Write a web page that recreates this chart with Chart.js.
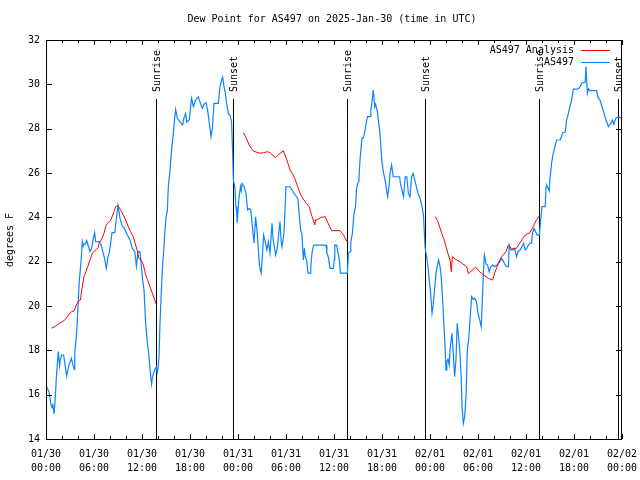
<!DOCTYPE html>
<html>
<head>
<meta charset="utf-8">
<script src="https://cdn.jsdelivr.net/npm/chart.js@4"></script>
<style>
  body { margin: 0; background: #fff; }
  canvas { display: block; }
</style>
</head>
<body>
<canvas id="chart" width="640" height="480"></canvas>
<script>
// Dew point, observed vs analysis, hours since 2025-01-30 00:00 UTC.

const titleText = 'Dew Point for AS497 on 2025-Jan-30 (time in UTC)';
const yTitle = 'degrees F';

const xTickHours = [0, 6, 12, 18, 24, 30, 36, 42, 48, 54, 60, 66, 72];
const xTickDates = ['01/30', '01/30', '01/30', '01/30', '01/31', '01/31', '01/31', '01/31', '02/01', '02/01', '02/01', '02/01', '02/02'];
const xTickTimes = ['00:00', '06:00', '12:00', '18:00', '00:00', '06:00', '12:00', '18:00', '00:00', '06:00', '12:00', '18:00', '00:00'];
const yTickValues = [14, 16, 18, 20, 22, 24, 26, 28, 30, 32];

const sunHours = [13.79, 23.42, 37.67, 47.4, 61.67, 71.46];
const sunLabels = ['Sunrise', 'Sunset', 'Sunrise', 'Sunset', 'Sunrise', 'Sunset'];

// AS497 observations
const obsHours = [
  0.0, 0.08, 0.4, 0.6, 0.75, 0.85, 1.0, 1.15, 1.29, 1.45, 1.54, 1.7, 1.8, 1.96, 2.2, 2.4, 2.58, 2.85, 3.17, 3.4,
  3.54, 3.6, 3.79, 3.9, 4.04, 4.17, 4.29, 4.42, 4.54, 4.66, 4.75, 4.95, 5.08, 5.25, 5.5, 5.7, 5.92, 6.08, 6.2, 6.63,
  6.9, 7.1, 7.33, 7.54, 7.75, 7.9, 8.08, 8.25, 8.6, 8.75, 9.0, 9.25, 9.54, 9.8, 10.1, 10.5, 10.8, 11.1, 11.3, 11.5,
  11.75, 12.08, 12.25, 12.46, 12.67, 12.875, 13.08, 13.2, 13.3, 13.58, 13.79, 13.9, 14.0, 14.125, 14.25, 14.42, 14.58, 14.7, 14.83, 15.0,
  15.17, 15.29, 15.5, 15.71, 15.92, 16.04, 16.2, 16.42, 16.75, 17.08, 17.25, 17.46, 17.58, 17.92, 18.08, 18.2, 18.42, 18.625, 18.83, 19.04,
  19.25, 19.54, 19.75, 20.0, 20.17, 20.42, 20.625, 20.79, 21.0, 21.54, 21.75, 21.96, 22.08, 22.25, 22.42, 22.58, 22.79, 23.0, 23.2, 23.33,
  23.42, 23.6, 23.75, 23.85, 23.9, 24.1, 24.3, 24.4, 24.5, 24.75, 25.0, 25.2, 25.4, 25.6, 25.8, 26.0, 26.2, 26.4, 26.7, 26.9,
  27.0, 27.2, 27.4, 27.6, 27.8, 28.0, 28.25, 28.4, 28.7, 28.9, 29.1, 29.25, 29.4, 29.5, 29.75, 30.0, 30.2, 30.5, 30.83, 31.0,
  31.33, 31.5, 31.67, 31.83, 32.0, 32.17, 32.3, 32.42, 32.58, 32.75, 33.0, 33.1, 33.25, 33.4, 33.5, 35.0, 35.1, 35.3, 35.5, 35.9,
  36.05, 36.1, 36.33, 36.5, 36.67, 36.8, 37.67, 37.8, 38.0, 38.1, 38.3, 38.5, 38.7, 38.8, 38.96, 39.1, 39.25, 39.4, 39.5, 39.7,
  39.875, 40.1, 40.2, 40.5, 40.6, 40.75, 40.9, 41.1, 41.2, 41.4, 41.75, 41.96, 42.2, 42.4, 42.6, 42.7, 42.875, 43.0, 43.2, 43.4,
  44.2, 44.3, 44.5, 44.7, 44.9, 45.1, 45.3, 45.5, 45.7, 45.9, 46.1, 46.3, 46.5, 46.75, 47.0, 47.2, 47.3, 47.4, 47.58, 47.75,
  47.9, 48.08, 48.25, 48.4, 48.6, 48.75, 48.9, 49.08, 49.25, 49.4, 49.58, 49.75, 49.9, 50.0, 50.1, 50.25, 50.4, 50.5, 50.75, 50.9,
  51.08, 51.25, 51.4, 51.58, 51.75, 51.9, 52.0, 52.17, 52.33, 52.5, 52.67, 52.83, 53.0, 53.2, 53.4, 53.6, 53.8, 54.0, 54.2, 54.4,
  54.58, 54.67, 54.8, 55.0, 55.2, 55.4, 55.6, 55.83, 56.1, 56.4, 56.75, 56.96, 57.2, 57.4, 57.58, 57.8, 57.9, 58.1, 58.4, 58.6,
  58.8, 59.0, 59.25, 59.5, 59.7, 59.9, 60.1, 60.3, 60.5, 60.7, 60.8, 61.0, 61.2, 61.4, 61.67, 61.83, 62.0, 62.4, 62.5, 62.6,
  62.9, 63.0, 63.2, 63.4, 63.83, 64.3, 64.58, 64.9, 65.08, 65.3, 65.5, 65.7, 65.92, 66.4, 66.7, 66.96, 67.4, 67.5, 67.67, 67.8,
  68.0, 68.83, 69.0, 69.25, 69.5, 69.7, 69.9, 70.08, 70.3, 70.5, 70.6, 70.8, 71.0, 71.2, 71.4, 71.6, 71.9
];
const obsDew = [
  16.4, 16.36, 16.1, 15.6, 15.4, 15.6, 15.13, 15.8, 16.75, 17.57, 17.94, 17.3, 17.6, 17.79, 17.79, 17.3, 16.84, 17.3, 17.64, 17.3,
  17.14, 17.9, 18.62, 19.22, 20.27, 21.17, 21.63, 22.23, 22.9, 22.7, 22.8, 22.8, 22.95, 22.75, 22.45, 22.6, 23.05, 23.31, 22.9, 22.9,
  22.75, 22.45, 22.15, 21.7, 22.2, 22.4, 22.83, 23.31, 23.31, 23.8, 24.53, 23.95, 23.6, 23.5, 23.25, 22.98, 22.6, 22.45, 21.8, 22.45,
  22.45, 21.17, 20.72, 19.22, 18.32, 17.71, 16.81, 16.48, 16.8, 17.11, 17.26, 17.0, 17.2, 17.71, 19.22, 20.72, 21.9, 22.4, 23.2, 24.0,
  24.3, 25.38, 26.14, 27.11, 27.79, 28.31, 28.87, 28.47, 28.31, 28.17, 28.5, 28.69, 28.3, 28.4, 29.0, 29.37, 29.0, 29.2, 29.37, 29.44,
  29.2, 28.92, 29.1, 29.17, 28.9, 28.24, 27.64, 28.0, 29.14, 29.14, 29.9, 30.2, 30.32, 29.9, 29.6, 29.14, 28.69, 28.6, 28.3, 26.9,
  25.68, 25.38, 24.48, 24.2, 23.76, 24.78, 25.38, 25.2, 25.53, 25.4, 25.08, 24.33, 24.4, 24.33, 23.58, 22.83, 24.03, 23.28, 21.78, 21.48,
  22.0, 23.2, 22.9, 22.53, 22.9, 22.38, 23.73, 23.0, 22.3, 22.6, 23.28, 23.81, 22.9, 22.68, 23.3, 25.38, 25.38, 25.38, 25.2, 25.08,
  24.93, 24.8, 24.03, 23.43, 23.2, 22.08, 22.6, 22.2, 22.08, 21.48, 21.48, 21.8, 22.4, 22.68, 22.75, 22.75, 22.4, 22.2, 21.7, 21.7,
  22.1, 22.75, 22.75, 22.4, 22.08, 21.48, 21.48, 22.38, 22.45, 22.86, 23.28, 24.18, 24.5, 25.23, 25.53, 25.6, 26.59, 27.2, 27.56, 27.6,
  27.94, 28.4, 28.54, 28.54, 28.84, 29.2, 29.74, 28.99, 29.1, 28.8, 27.79, 26.59, 25.98, 25.68, 25.16, 24.93, 25.38, 25.98, 26.36, 25.83,
  25.83, 25.53, 25.23, 24.93, 25.83, 25.83, 25.08, 24.93, 25.83, 25.98, 25.68, 25.38, 25.08, 24.86, 24.5, 24.03, 23.2, 22.6, 22.23, 21.78,
  21.17, 20.57, 19.67, 20.05, 20.87, 21.48, 21.78, 22.08, 21.78, 21.33, 20.27, 19.07, 18.02, 17.11, 17.5, 17.6, 17.34, 18.02, 18.77, 17.9,
  16.81, 17.6, 19.22, 18.6, 17.87, 16.81, 15.46, 14.71, 15.0, 15.91, 18.02, 18.47, 19.37, 20.42, 20.3, 20.35, 20.2, 19.67, 19.37, 19.07,
  20.57, 21.48, 22.3, 21.9, 21.85, 21.55, 21.78, 21.85, 21.78, 21.85, 22.0, 22.15, 22.0, 21.85, 21.78, 21.78, 22.75, 22.53, 22.53, 22.6,
  22.23, 22.45, 22.53, 22.68, 22.83, 22.53, 22.6, 22.75, 22.83, 22.83, 23.28, 23.5, 23.35, 23.2, 23.2, 23.88, 24.48, 24.48, 25.38, 25.45,
  25.2, 25.76, 26.44, 26.89, 27.49, 27.5, 27.82, 27.85, 28.39, 28.69, 29.0, 29.29, 29.78, 29.78, 29.85, 30.05, 30.1, 30.8, 29.6, 29.8,
  29.72, 29.72, 29.4, 29.29, 29.0, 28.77, 28.5, 28.31, 28.09, 28.2, 28.25, 28.39, 28.2, 28.45, 28.51, 28.51, 28.5
];

// AS497 Analysis (null = no analysis, line breaks there)
const anaHours = [
  0.67, 1.0, 1.67, 2.1, 2.3, 2.83, 3.17, 3.5, 3.8, 4.08, 4.3, 4.46, 4.75, 5.0, 5.2, 5.5, 5.83, 6.25, 6.55, 6.63,
  6.9, 7.25, 7.45, 7.67, 7.95, 8.1, 8.3, 8.5, 8.71, 9.0, 9.33, 9.67, 9.96, 10.25, 10.58, 10.9, 11.2, 11.4, 11.6, 11.9,
  12.17, 12.46, 12.67, 13.0, 13.3, 13.58, 13.79,
  19.0,
  24.67, 25.0, 25.4, 25.7, 25.9, 26.3, 26.75, 27.2, 27.67, 28.0, 28.5, 28.7, 29.25, 29.67, 30.1, 30.5, 30.83, 31.1, 31.4, 31.67,
  31.96, 32.4, 32.9, 33.2, 33.6, 33.7, 33.83, 34.4, 34.9, 35.3, 35.7, 36.75, 37.2, 37.5, 37.8,
  43.0,
  48.67, 49.0, 49.46, 49.75, 50.0, 50.3, 50.5, 50.67, 50.79, 51.2, 51.75, 52.1, 52.58, 52.8, 53.2, 53.7, 54.2, 54.67, 55.3, 55.83,
  56.1, 56.54, 56.9, 57.5, 57.8, 58.0, 58.2, 58.8, 59.25, 59.6, 59.9, 60.5, 60.9, 61.33, 61.67
];
const anaDew = [
  19.0, 19.05, 19.22, 19.3, 19.35, 19.6, 19.74, 19.78, 20.05, 20.24, 20.27, 20.72, 21.33, 21.55, 21.75, 22.08, 22.41, 22.53, 22.65, 22.83,
  22.98, 23.28, 23.58, 23.73, 23.81, 23.88, 24.06, 24.25, 24.48, 24.53, 24.33, 24.1, 23.88, 23.6, 23.35, 23.13, 22.75, 22.53, 22.15, 22.08,
  21.85, 21.4, 21.2, 20.87, 20.57, 20.27, 20.07,
  null,
  27.82, 27.6, 27.26, 27.1, 27.0, 26.94, 26.89, 26.92, 26.96, 26.92, 26.74, 26.7, 26.89, 27.0, 26.6, 26.14, 25.95, 25.76, 25.45, 25.16,
  24.93, 24.7, 24.48, 24.1, 23.66, 23.9, 23.88, 24.0, 24.03, 23.7, 23.4, 23.4, 23.2, 22.98, 22.83,
  null,
  24.03, 23.8, 23.28, 23.0, 22.68, 22.3, 22.08, 21.55, 22.23, 22.1, 22.0, 21.9, 21.78, 21.45, 21.6, 21.75, 21.55, 21.4, 21.25, 21.17,
  21.5, 21.93, 22.2, 22.45, 22.75, 22.65, 22.6, 22.6, 22.86, 23.05, 23.2, 23.31, 23.58, 23.9, 24.06
];

const FONT = '"DejaVu Sans Mono", "Liberation Mono", monospace';
const RED = '#ff0000';
const BLUE = '#0a84ff';

function pairs(xs, ys) {
  return xs.map((x, i) => ({ x, y: ys[i] }));
}

// Frame, ticks, sun lines, legend and titles, drawn the gnuplot way.
const decor = {
  id: 'decor',
  beforeDatasetsDraw(chart) {
    const { ctx, chartArea: a, scales: { x } } = chart;
    ctx.save();
    ctx.strokeStyle = '#000';
    ctx.lineWidth = 1;
    ctx.fillStyle = '#000';
    ctx.font = '10px ' + FONT;
    sunHours.forEach((h, i) => {
      const px = Math.round(x.getPixelForValue(h)) + 0.5;
      ctx.beginPath();
      ctx.moveTo(px, a.top + 59);
      ctx.lineTo(px, a.bottom);
      ctx.stroke();
      ctx.save();
      ctx.translate(px + 1, a.top + 52);
      ctx.rotate(-Math.PI / 2);
      ctx.textAlign = 'left';
      ctx.textBaseline = 'middle';
      ctx.fillText(sunLabels[i], 0, 0);
      ctx.restore();
    });
    ctx.restore();
  },
  afterDraw(chart) {
    const { ctx, chartArea: a, scales: { x, y } } = chart;
    ctx.save();
    ctx.strokeStyle = '#000';
    ctx.lineWidth = 1;
    ctx.strokeRect(a.left + 0.5, a.top + 0.5, a.right - a.left - 1, a.bottom - a.top);

    ctx.beginPath();
    for (let h = 0; h <= 72; h += 2) {
      const px = Math.round(x.getPixelForValue(h)) + 0.5;
      const len = h % 6 === 0 ? 5 : 3;
      ctx.moveTo(px, a.bottom); ctx.lineTo(px, a.bottom - len);
      ctx.moveTo(px, a.top); ctx.lineTo(px, a.top + len);
    }
    yTickValues.forEach(v => {
      const py = Math.round(y.getPixelForValue(v)) + 0.5;
      ctx.moveTo(a.left, py); ctx.lineTo(a.left + 6, py);
      ctx.moveTo(a.right, py); ctx.lineTo(a.right - 6, py);
    });
    ctx.stroke();

    ctx.fillStyle = '#000';
    ctx.font = '10px ' + FONT;
    ctx.textAlign = 'center';
    ctx.textBaseline = 'middle';
    ctx.fillText(titleText, 332, 19);

    ctx.save();
    ctx.translate(10, 240);
    ctx.rotate(-Math.PI / 2);
    ctx.fillText(yTitle, 0, 0);
    ctx.restore();

    // legend
    ctx.textAlign = 'right';
    chart.data.datasets.forEach((ds, i) => {
      const ly = 50 + i * 12;
      ctx.fillStyle = '#000';
      ctx.fillText(ds.label, 574, ly);
      ctx.strokeStyle = ds.borderColor;
      ctx.beginPath();
      ctx.moveTo(581, ly + 0.5);
      ctx.lineTo(610, ly + 0.5);
      ctx.stroke();
    });
    ctx.restore();
  }
};

new Chart(document.getElementById('chart'), {
  type: 'line',
  data: {
    datasets: [
      {
        label: 'AS497 Analysis',
        data: pairs(anaHours, anaDew),
        borderColor: RED,
        borderWidth: 1,
        pointRadius: 0,
        tension: 0,
        spanGaps: false,
      },
      {
        label: 'AS497',
        data: pairs(obsHours, obsDew),
        borderColor: BLUE,
        borderWidth: 1.2,
        pointRadius: 0,
        tension: 0,
      },
    ],
  },
  options: {
    responsive: false,
    animation: false,
    events: [],
    layout: { padding: { top: 40, right: 18, left: 0, bottom: 0 } },
    plugins: {
      legend: { display: false },
      title: { display: false },
      tooltip: { enabled: false },
    },
    scales: {
      x: {
        type: 'linear',
        min: 0,
        max: 72,
        afterBuildTicks: s => { s.ticks = xTickHours.map(v => ({ value: v })); },
        afterFit: s => { s.height = 41; s.paddingLeft = 0; s.paddingRight = 0; },
        grid: { display: false, drawTicks: false },
        border: { display: false },
        ticks: {
          autoSkip: false,
          maxRotation: 0,
          padding: 8,
          color: '#000',
          font: { family: FONT, size: 10, lineHeight: 1.4 },
          callback: (v, i) => [xTickDates[i], xTickTimes[i]],
        },
      },
      y: {
        min: 14,
        max: 32,
        afterBuildTicks: s => { s.ticks = yTickValues.map(v => ({ value: v })); },
        afterFit: s => { s.width = 46; s.paddingTop = 0; s.paddingBottom = 0; },
        grid: { display: false, drawTicks: false },
        border: { display: false },
        ticks: {
          padding: 6,
          color: '#000',
          font: { family: FONT, size: 10 },
        },
      },
    },
  },
  plugins: [decor],
});
</script>
</body>
</html>
